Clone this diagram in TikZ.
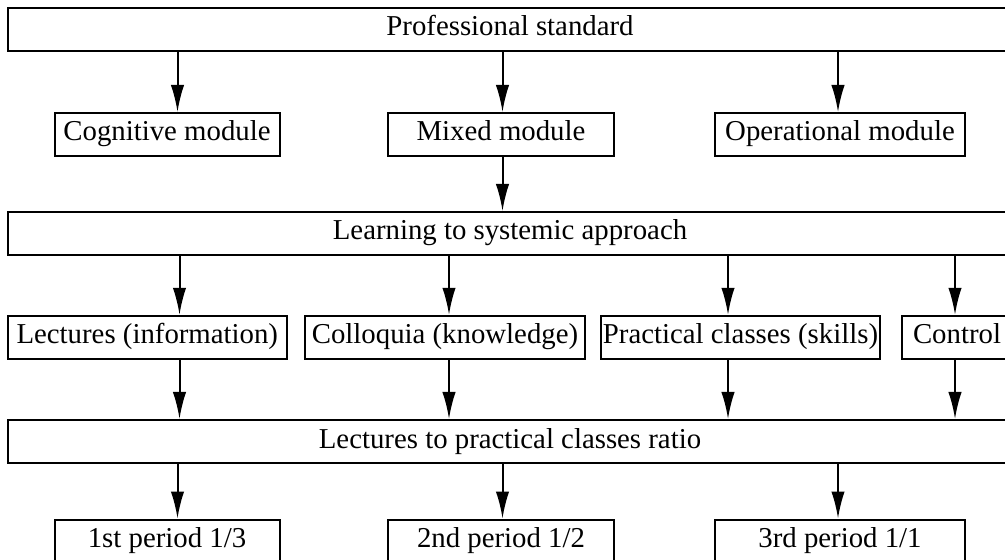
\documentclass[tikz,border=0pt]{standalone}
\usepackage{fontspec}
\setmainfont{Liberation Serif}
\usepackage{tikz}
\usetikzlibrary{arrows.meta}

\begin{document}
\begin{tikzpicture}[x=0.5pt, y=-0.5pt, line width=1pt,
	blk/.style={rectangle, draw, minimum height=21.5pt, inner sep=0pt, text height=10.1pt, text depth=3.6pt, font=\fontsize{14.4}{17}\selectfont},
	wide/.style={blk, minimum width=502pt},
	arr/.style={-{Latex[length=13.5pt, width=6.7pt]}}]
	\useasboundingbox (0,0) rectangle (1005,560);

	% arrow columns
	\coordinate (c1) at (177.5,0);
	\coordinate (c2) at (502.5,0);
	\coordinate (c3) at (838,0);
	\coordinate (d1) at (179.5,0);
	\coordinate (d2) at (449,0);
	\coordinate (d3) at (728,0);
	\coordinate (d4) at (955,0);

	\node[wide] (std) at (510,29.5) {Professional standard};
	\node[blk, minimum width=112.5pt] (cog) at (167,134.5) {Cognitive module};
	\node[blk, minimum width=113pt] (mix) at (501,134.5) {Mixed module};
	\node[blk, minimum width=125pt] (opr) at (840,134.5) {Operational module};

	\node[wide] (lsa) at (510,233.5) {Learning to systemic approach};
	\node[blk, minimum width=139.7pt] (lec) at (147.3,337.3) {Lectures (information)};
	\node[blk, minimum width=140pt] (col) at (445,337.3) {Colloquia (knowledge)};
	\node[blk, minimum width=139.5pt] (prc) at (740.5,337.3) {Practical classes (skills)};
	\node[blk, minimum width=55pt] (ctl) at (957,337.3) {Control};

	\node[wide] (rat) at (510,441.5) {Lectures to practical classes ratio};
	\node[blk, minimum width=112.5pt] (p1) at (167,541) {1st period 1/3};
	\node[blk, minimum width=113pt] (p2) at (501,541) {2nd period 1/2};
	\node[blk, minimum width=125pt] (p3) at (840,541) {3rd period 1/1};

	\draw[arr] (std.south -| c1) -- (cog.north -| c1);
	\draw[arr] (std.south -| c2) -- (mix.north -| c2);
	\draw[arr] (std.south -| c3) -- (opr.north -| c3);
	\draw[arr] (mix.south -| c2) -- (lsa.north -| c2);

	\draw[arr] (lsa.south -| d1) -- (lec.north -| d1);
	\draw[arr] (lsa.south -| d2) -- (col.north -| d2);
	\draw[arr] (lsa.south -| d3) -- (prc.north -| d3);
	\draw[arr] (lsa.south -| d4) -- (ctl.north -| d4);

	\draw[arr] (lec.south -| d1) -- (rat.north -| d1);
	\draw[arr] (col.south -| d2) -- (rat.north -| d2);
	\draw[arr] (prc.south -| d3) -- (rat.north -| d3);
	\draw[arr] (ctl.south -| d4) -- (rat.north -| d4);

	\draw[arr] (rat.south -| c1) -- (p1.north -| c1);
	\draw[arr] (rat.south -| c2) -- (p2.north -| c2);
	\draw[arr] (rat.south -| c3) -- (p3.north -| c3);
\end{tikzpicture}
\end{document}
